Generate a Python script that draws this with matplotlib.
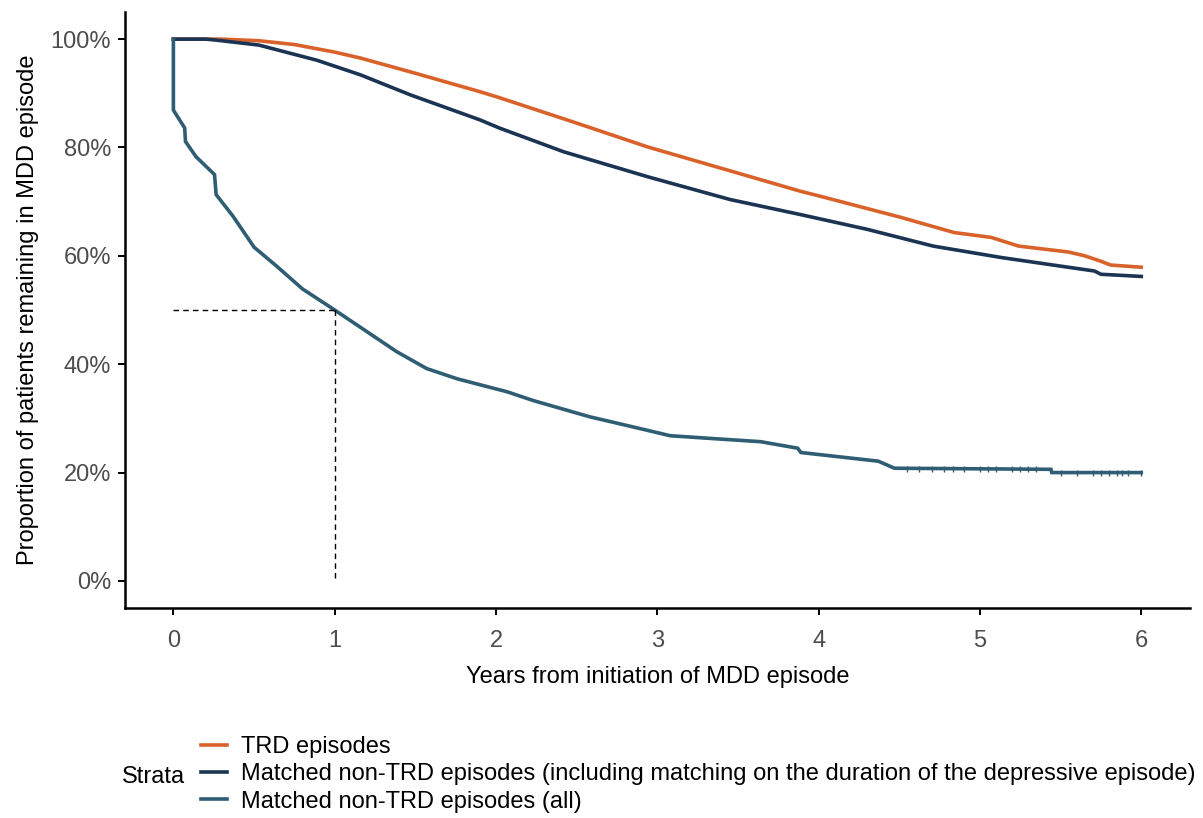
import matplotlib.pyplot as plt
from matplotlib.lines import Line2D
from matplotlib.ticker import FuncFormatter

plt.rcParams['font.family'] = ['Liberation Sans', 'DejaVu Sans']

# survival curves (years, proportion remaining in episode)
trd_t = [0, 0.30, 0.53, 0.75, 1.0, 1.16, 1.5, 1.9, 2.02, 2.5, 2.94, 3.45, 3.89, 4.01,
         4.51, 4.84, 5.07, 5.24, 5.55, 5.65, 5.75, 5.81, 6.0]
trd_s = [1.0, 1.0, 0.997, 0.99, 0.976, 0.965, 0.937, 0.903, 0.892, 0.845, 0.801, 0.757, 0.719, 0.710,
         0.671, 0.643, 0.634, 0.618, 0.607, 0.600, 0.590, 0.583, 0.579]

dur_t = [0, 0.20, 0.27, 0.53, 0.89, 1.16, 1.47, 1.90, 2.02, 2.42, 2.94, 3.45, 3.89,
         4.30, 4.71, 5.13, 5.50, 5.71, 5.75, 6.0]
dur_s = [1.0, 1.0, 0.998, 0.989, 0.961, 0.934, 0.897, 0.851, 0.836, 0.792, 0.746, 0.704, 0.676,
         0.649, 0.618, 0.597, 0.581, 0.572, 0.566, 0.562]

all_t = [0, 0, 0.07, 0.075, 0.14, 0.255, 0.265, 0.37, 0.50, 0.64, 0.80, 0.99, 1.155, 1.385,
         1.57, 1.76, 2.07, 2.23, 2.58, 2.81, 3.08, 3.33, 3.64, 3.87, 3.89, 4.37, 4.47,
         5.44, 5.445, 6.0]
all_s = [1.0, 0.869, 0.836, 0.811, 0.783, 0.750, 0.713, 0.673, 0.616, 0.581, 0.539, 0.502, 0.469, 0.423,
         0.392, 0.373, 0.349, 0.333, 0.303, 0.287, 0.268, 0.263, 0.257, 0.245, 0.237, 0.221, 0.208,
         0.206, 0.200, 0.200]

# censoring marks on the tail of the "all" curve
cens_t = [4.55, 4.62, 4.7, 4.78, 4.83, 4.9, 5.0, 5.05, 5.1, 5.2, 5.25, 5.3, 5.35,
          5.5, 5.6, 5.7, 5.75, 5.8, 5.85, 5.88, 5.92, 6.0]

median_all = 1.0

labels = ['TRD episodes',
          'Matched non-TRD episodes (including matching on the duration of the depressive episode)',
          'Matched non-TRD episodes (all)']
colors = ['#D9622B', '#1B3453', '#2F5D74']

fig = plt.figure(figsize=(12.03, 8.18), dpi=100)
ax = fig.add_axes([0.1039, 0.2567, 0.885, 0.7286])

for t, s, c in zip([trd_t, dur_t, all_t], [trd_s, dur_s, all_s], colors):
    ax.plot(t, s, color=c, lw=2.6, solid_joinstyle='miter')

# censor ticks sit on the last step value
cens_s = [0.206 if t < 5.44 else 0.200 for t in cens_t]
ax.plot(cens_t, cens_s, ls='none', marker='|', ms=4, mew=1, color=colors[2])

# median survival guide lines
ax.plot([0, median_all], [0.5, 0.5], color='black', ls=(0, (4, 3)), lw=1)
ax.plot([median_all, median_all], [0.5, 0], color='black', ls=(0, (4, 3)), lw=1)

ax.set_xlim(-0.3, 6.3)
ax.set_ylim(-0.05, 1.05)
ax.set_xticks(range(0, 7))
ax.set_yticks([0, 0.2, 0.4, 0.6, 0.8, 1.0])
ax.yaxis.set_major_formatter(FuncFormatter(lambda v, p: f'{v*100:.0f}%'))

for s in ['top', 'right']:
    ax.spines[s].set_visible(False)
for s in ['left', 'bottom']:
    ax.spines[s].set_linewidth(1.8)
ax.tick_params(width=1.4, length=5, pad=5, labelsize=17, labelcolor='#4D4D4D', color='black')
ax.tick_params(axis='x', pad=11)

ax.set_xlabel('Years from initiation of MDD episode', fontsize=17, labelpad=10)
ax.set_ylabel('Proportion of patients remaining in MDD episode', fontsize=17, labelpad=8)

handles = [Line2D([], [], color=c, lw=2.6) for c in colors]
fig.legend(handles, labels, loc='upper left', bbox_to_anchor=(0.167, 0.100),
           frameon=False, fontsize=17, handlelength=1.1, handletextpad=0.6,
           labelspacing=0.22, borderpad=0, borderaxespad=0)
fig.text(0.101, 0.050, 'Strata', fontsize=17, va='center', ha='left')

fig.savefig('out.png', dpi=100)
